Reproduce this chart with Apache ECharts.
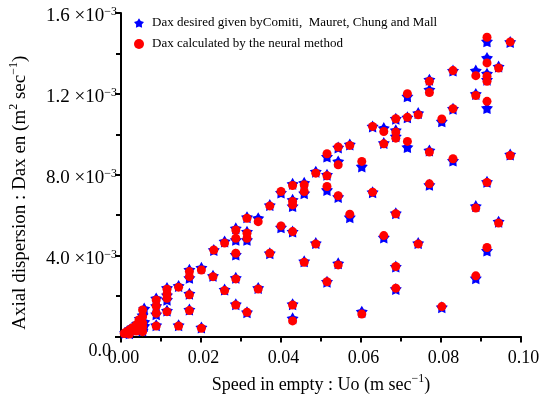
<!DOCTYPE html>
<html>
<head>
<meta charset="utf-8">
<script src="https://cdn.jsdelivr.net/npm/echarts@6/dist/echarts.min.js"></script>
<style>html,body{margin:0;padding:0;background:#fff}#c{width:539px;height:397px}</style>
</head>
<body>
<div id="c"></div>
<script>
// Speed in empty Uo (m/s) and Dax (m^2/s)
const neuralPoints = [
[0.0915,1.480e-3],[0.0973,1.457e-3],[0.0830,1.315e-3],[0.0887,1.290e-3],[0.0915,1.353e-3],
[0.0915,1.287e-3],[0.0915,1.262e-3],[0.0944,1.328e-3],[0.0771,1.262e-3],[0.0771,1.207e-3],
[0.0716,1.201e-3],[0.0887,1.192e-3],[0.0915,1.163e-3],[0.0830,1.127e-3],[0.0743,1.097e-3],
[0.0716,1.084e-3],[0.0687,1.077e-3],[0.0802,1.076e-3],[0.0657,1.014e-3],[0.0687,1.011e-3],
[0.0687,0.981e-3],[0.0657,0.953e-3],[0.0716,0.965e-3],[0.0771,0.912e-3],[0.0830,0.879e-3],
[0.0973,0.895e-3],[0.0771,0.755e-3],[0.0915,0.762e-3],[0.0687,0.607e-3],[0.0887,0.635e-3],
[0.0944,0.561e-3],[0.0657,0.499e-3],[0.0743,0.458e-3],[0.0915,0.440e-3],[0.0687,0.346e-3],
[0.0887,0.300e-3],[0.0687,0.239e-3],[0.0802,0.148e-3],
[0.0629,1.039e-3],[0.0572,0.945e-3],[0.0543,0.937e-3],[0.0515,0.904e-3],[0.0543,0.849e-3],
[0.0602,0.866e-3],[0.0487,0.808e-3],[0.0515,0.795e-3],[0.0515,0.742e-3],[0.0458,0.750e-3],
[0.0429,0.747e-3],[0.0458,0.717e-3],[0.0429,0.668e-3],[0.0429,0.651e-3],[0.0400,0.717e-3],
[0.0372,0.646e-3],[0.0315,0.585e-3],[0.0343,0.568e-3],[0.0315,0.511e-3],[0.0315,0.486e-3],
[0.0543,0.696e-3],[0.0629,0.714e-3],[0.0572,0.605e-3],[0.0400,0.547e-3],[0.0429,0.519e-3],
[0.0487,0.458e-3],[0.0372,0.412e-3],[0.0458,0.367e-3],[0.0543,0.354e-3],[0.0515,0.271e-3],
[0.0343,0.235e-3],[0.0429,0.156e-3],[0.0429,0.077e-3],[0.0315,0.120e-3],[0.0602,0.111e-3],
[0.0287,0.527e-3],[0.0287,0.486e-3],[0.0259,0.462e-3],[0.0232,0.428e-3],[0.0287,0.412e-3],
[0.0201,0.329e-3],[0.0171,0.321e-3],[0.0171,0.296e-3],[0.0230,0.296e-3],[0.0144,0.244e-3],
[0.0287,0.285e-3],[0.0259,0.227e-3],[0.0171,0.206e-3],[0.0115,0.234e-3],[0.0115,0.210e-3],
[0.0115,0.189e-3],[0.0088,0.181e-3],[0.0088,0.151e-3],[0.0088,0.115e-3],[0.0115,0.123e-3],
[0.0287,0.156e-3],[0.0171,0.128e-3],[0.0088,0.052e-3],[0.0144,0.052e-3],[0.0201,0.041e-3],
[0.0054,0.131e-3],[0.0054,0.098e-3],[0.0054,0.067e-3],[0.0054,0.024e-3],[0.0038,0.057e-3],
[0.0038,0.027e-3],[0.0021,0.032e-3],[0.0021,0.012e-3],[0.0008,0.015e-3],[0.0045,0.082e-3],
[0.0028,0.042e-3],[0.0013,0.022e-3],[0.0054,0.047e-3]
];
const desiredPoints = [
[0.0915,1.460e-3],[0.0973,1.457e-3],[0.0830,1.315e-3],[0.0887,1.315e-3],[0.0915,1.378e-3],
[0.0915,1.300e-3],[0.0915,1.270e-3],[0.0944,1.335e-3],[0.0771,1.270e-3],[0.0771,1.221e-3],
[0.0716,1.188e-3],[0.0887,1.200e-3],[0.0915,1.130e-3],[0.0830,1.127e-3],[0.0743,1.105e-3],
[0.0716,1.084e-3],[0.0687,1.077e-3],[0.0802,1.064e-3],[0.0657,1.031e-3],[0.0687,1.020e-3],
[0.0687,0.990e-3],[0.0657,0.957e-3],[0.0716,0.937e-3],[0.0771,0.920e-3],[0.0830,0.870e-3],
[0.0973,0.900e-3],[0.0771,0.750e-3],[0.0915,0.765e-3],[0.0687,0.610e-3],[0.0887,0.645e-3],
[0.0944,0.568e-3],[0.0657,0.490e-3],[0.0743,0.462e-3],[0.0915,0.425e-3],[0.0687,0.346e-3],
[0.0887,0.288e-3],[0.0687,0.235e-3],[0.0802,0.145e-3],
[0.0629,1.039e-3],[0.0572,0.950e-3],[0.0543,0.935e-3],[0.0515,0.890e-3],[0.0543,0.866e-3],
[0.0602,0.841e-3],[0.0487,0.815e-3],[0.0515,0.800e-3],[0.0515,0.725e-3],[0.0458,0.760e-3],
[0.0429,0.755e-3],[0.0458,0.709e-3],[0.0429,0.676e-3],[0.0429,0.645e-3],[0.0400,0.712e-3],
[0.0372,0.650e-3],[0.0315,0.590e-3],[0.0343,0.585e-3],[0.0315,0.518e-3],[0.0315,0.478e-3],
[0.0543,0.690e-3],[0.0629,0.714e-3],[0.0572,0.590e-3],[0.0400,0.540e-3],[0.0429,0.519e-3],
[0.0487,0.462e-3],[0.0372,0.412e-3],[0.0458,0.372e-3],[0.0543,0.362e-3],[0.0515,0.271e-3],
[0.0343,0.240e-3],[0.0429,0.160e-3],[0.0429,0.090e-3],[0.0315,0.120e-3],[0.0602,0.123e-3],
[0.0287,0.535e-3],[0.0287,0.478e-3],[0.0259,0.470e-3],[0.0232,0.428e-3],[0.0287,0.405e-3],
[0.0201,0.340e-3],[0.0171,0.330e-3],[0.0171,0.290e-3],[0.0230,0.300e-3],[0.0144,0.250e-3],
[0.0287,0.290e-3],[0.0259,0.232e-3],[0.0171,0.212e-3],[0.0115,0.240e-3],[0.0115,0.205e-3],
[0.0115,0.182e-3],[0.0088,0.188e-3],[0.0088,0.151e-3],[0.0088,0.110e-3],[0.0115,0.128e-3],
[0.0287,0.160e-3],[0.0171,0.133e-3],[0.0088,0.056e-3],[0.0144,0.056e-3],[0.0201,0.045e-3],
[0.0058,0.138e-3],[0.0054,0.105e-3],[0.0058,0.072e-3],[0.0054,0.030e-3],[0.0040,0.062e-3],
[0.0038,0.032e-3],[0.0023,0.036e-3],[0.0021,0.016e-3],[0.0010,0.018e-3],[0.0047,0.088e-3],
[0.0030,0.047e-3],[0.0015,0.025e-3],[0.0058,0.052e-3]
];
const xTickLabels = ['0.00','0.02','0.04','0.06','0.08','0.10'];
const yTickMantissa = ['0.0','4.0','8.0','1.2','1.6'];
const yTickExponent = ['','−3','−3','−3','−3'];
const seriesNames = ['Dax desired given byComiti,  Mauret, Chung and Mall','Dax calculated by the neural method'];

const FONT = 'Liberation Serif';
const starPath = 'path://M50,0 L66.46,27.35 L97.55,34.55 L76.63,58.65 L79.39,90.45 L50,78 L20.61,90.45 L23.37,58.65 L2.45,34.55 L33.54,27.35 Z';
const chart = echarts.init(document.getElementById('c'));
const axisCommon = {
  axisLine: {show: true, onZero: false, lineStyle: {color: '#000', width: 2}},
  axisTick: {show: true, inside: false, length: 6, lineStyle: {color: '#000', width: 2}},
  minorTick: {show: true, splitNumber: 2, length: 5, lineStyle: {color: '#000', width: 2}},
  splitLine: {show: false}
};
const supRich = (size) => ({
  t: {fontFamily: FONT, fontSize: size, color: '#000', lineHeight: 22, verticalAlign: 'bottom'},
  s: {fontFamily: FONT, fontSize: 12, color: '#000', verticalAlign: 'top', lineHeight: 22}
});
chart.setOption({
  animation: false,
  backgroundColor: '#fff',
  grid: {left: 121, top: 13, width: 400, height: 323.5, containLabel: false, outerBoundsMode: 'none'},
  legend: {
    orient: 'vertical', left: 134, top: 16, padding: 0, itemGap: 7, itemWidth: 10, itemHeight: 10,
    textStyle: {fontFamily: FONT, fontSize: 13, color: '#000', lineHeight: 14, padding: [0, 0, 0, 3]},
    data: [{name: seriesNames[0], icon: starPath}, {name: seriesNames[1], icon: 'circle'}]
  },
  xAxis: Object.assign({
    type: 'value', min: 0, max: 0.1, interval: 0.02,
    name: '{t|Speed in empty : Uo (m sec}{s|−1}{t|)}',
    nameLocation: 'middle', nameGap: 29,
    nameTextStyle: {rich: supRich(18)},
    axisLabel: {margin: 13, fontFamily: FONT, fontSize: 18, color: '#000', padding: [0, 0, 0, 5],
      formatter: v => xTickLabels[Math.round(v / 0.02)]}
  }, axisCommon),
  yAxis: Object.assign({
    type: 'value', min: 0, max: 1.6e-3, interval: 0.4e-3,
    name: '{t|Axial dispersion : Dax en (m}{s|2}{t| sec}{s|−1}{t|)}',
    nameLocation: 'middle', nameGap: 91,
    nameTextStyle: {rich: supRich(19), padding: [0, 36, 0, 0]},
    axisLabel: {margin: 4, color: '#000', padding: [6, 0, 0, 0],
      formatter: v => { const i = Math.round(v / 0.4e-3); return yTickExponent[i] ? '{a|' + yTickMantissa[i] + ' ×10}{s|' + yTickExponent[i] + '}' : '{z|' + yTickMantissa[i] + '}'; },
      rich: {
        a: {fontFamily: FONT, fontSize: 19, color: '#000', lineHeight: 20, verticalAlign: 'bottom'},
        s: {fontFamily: FONT, fontSize: 12, color: '#000', lineHeight: 20, verticalAlign: 'top'},
        z: {fontFamily: FONT, fontSize: 18, color: '#000', lineHeight: 20, padding: [24, 6, 0, 0]}
      }}
  }, axisCommon),
  series: [
    {name: seriesNames[0], type: 'scatter', data: desiredPoints, symbol: starPath, symbolSize: 12, itemStyle: {color: '#0000ff', opacity: 1}, z: 2},
    {name: seriesNames[1], type: 'scatter', data: neuralPoints, symbol: 'circle', symbolSize: 9, itemStyle: {color: '#ff0000', opacity: 1}, z: 3}
  ]
});
</script>
</body>
</html>
